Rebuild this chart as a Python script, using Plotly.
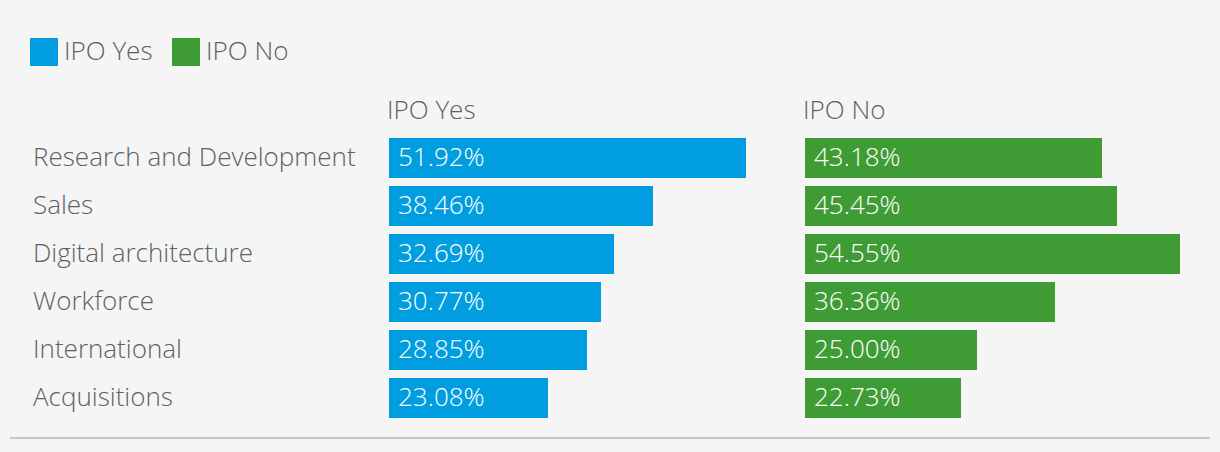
import plotly.graph_objects as go

categories = ["Research and Development", "Sales", "Digital architecture",
              "Workforce", "International", "Acquisitions"]
ipo_yes = [51.92, 38.46, 32.69, 30.77, 28.85, 23.08]
ipo_no = [43.18, 45.45, 54.55, 36.36, 25.00, 22.73]
series_names = ["IPO Yes", "IPO No"]

W, H = 1220, 452
BLUE = "#009ee0"
GREEN = "#3f9c35"
TXT = "#5e6166"
BG = "#f5f5f5"
FONT = "Open Sans"
FS = 26
FW = 300

# pixel layout
px_per_unit = 6.875
panel_px = 400
xmax = panel_px / px_per_unit
left0, right0 = 389, 805
top_px, bot_px = 134, 422

fig = go.Figure()
for vals, color, xa, ya in [(ipo_yes, BLUE, "x", "y"), (ipo_no, GREEN, "x2", "y2")]:
    fig.add_trace(go.Bar(
        y=categories, x=vals, orientation="h", marker=dict(color=color, line_width=0),
        width=40 / 48, xaxis=xa, yaxis=ya, showlegend=False, hoverinfo="x+y"))
    for c, v in zip(categories, vals):
        fig.add_annotation(x=0, y=c, xref=xa, yref=ya, text=f"{v:.2f}%", showarrow=False,
                           xanchor="left", xshift=7, yshift=2,
                           font=dict(color="white", size=FS, family=FONT, weight=FW))

ydom = [1 - bot_px / H, 1 - top_px / H]
axis_common = dict(range=[0, xmax], visible=False, fixedrange=True)
yaxis_common = dict(visible=False, autorange="reversed", domain=ydom,
                    categoryorder="array", categoryarray=categories)
fig.update_layout(
    xaxis=dict(domain=[left0 / W, (left0 + panel_px) / W], anchor="y", **axis_common),
    xaxis2=dict(domain=[right0 / W, (right0 + panel_px) / W], anchor="y2", **axis_common),
    yaxis=dict(anchor="x", **yaxis_common),
    yaxis2=dict(anchor="x2", **yaxis_common),
)

# category labels
for c in categories:
    fig.add_annotation(x=31 / W, y=c, xref="paper", yref="y", text=c, showarrow=False,
                       xanchor="left", yshift=2,
                       font=dict(color=TXT, size=FS, family=FONT, weight=FW))

# panel titles
for name, x0 in zip(series_names, [left0, right0]):
    fig.add_annotation(x=(x0 - 4) / W, y=1 - 109 / H, xref="paper", yref="paper", text=name,
                       showarrow=False, xanchor="left", yanchor="middle",
                       font=dict(color=TXT, size=FS, family=FONT, weight=FW))

# legend
for name, color, sx, tx in zip(series_names, [BLUE, GREEN], [30, 172], [62, 204]):
    fig.add_shape(type="rect", xref="paper", yref="paper", x0=sx / W, x1=(sx + 28) / W,
                  y0=1 - 66 / H, y1=1 - 38 / H, fillcolor=color, line_width=0)
    fig.add_annotation(x=tx / W, y=1 - 50 / H, xref="paper", yref="paper", text=name,
                       showarrow=False, xanchor="left", yanchor="middle",
                       font=dict(color=TXT, size=FS, family=FONT, weight=FW))

# bottom rule
fig.add_shape(type="line", xref="paper", yref="paper", x0=10 / W, x1=1210 / W,
              y0=1 - 438 / H, y1=1 - 438 / H, line=dict(color="#c6c6c6", width=2))

fig.update_layout(
    width=W, height=H, margin=dict(l=0, r=0, t=0, b=0),
    paper_bgcolor=BG, plot_bgcolor=BG, bargap=0,
    font=dict(family=FONT, color=TXT),
)

fig.write_html("out.html", config={"displayModeBar": False},
               post_script="document.body.style.margin='0';"
                           "document.body.style.background='" + BG + "';")
